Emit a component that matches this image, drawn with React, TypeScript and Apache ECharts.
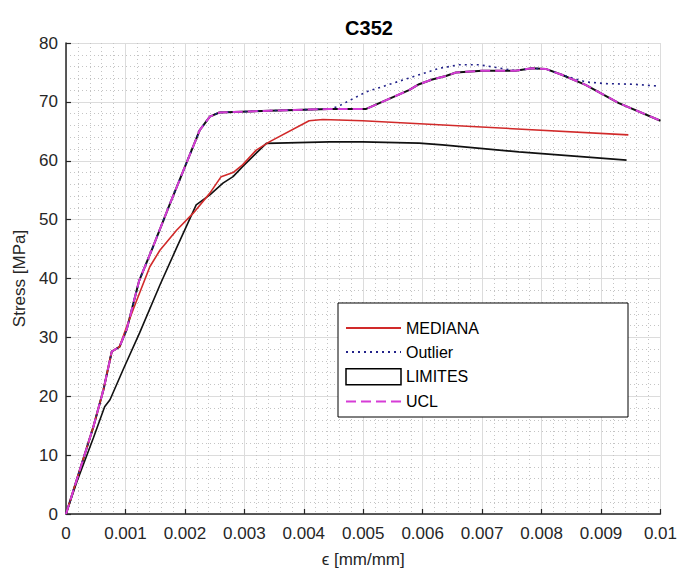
import React, { useEffect, useRef } from "react";
import * as echarts from "echarts";

const xTicks = [0, 0.001, 0.002, 0.003, 0.004, 0.005, 0.006, 0.007, 0.008, 0.009, 0.01];

const upperStrain = [0, 0.00046, 0.00063, 0.00077, 0.0009, 0.00102, 0.00123, 0.00146, 0.001745, 0.00225, 0.00242, 0.00258, 0.00342, 0.00443, 0.00505, 0.00577, 0.00594, 0.00616, 0.00639, 0.00656, 0.007, 0.00756, 0.00784, 0.00807, 0.00834, 0.00874, 0.0093, 0.01];
const upperStress = [0, 14.8, 21.1, 27.6, 28.4, 31.3, 39.6, 45.3, 52.6, 65.2, 67.5, 68.2, 68.5, 68.8, 68.8, 72.0, 73.0, 73.8, 74.4, 75.0, 75.3, 75.3, 75.7, 75.6, 74.6, 72.9, 69.8, 66.8];

const outlierStrain = [0, 0.00046, 0.00063, 0.00077, 0.0009, 0.00102, 0.00123, 0.00146, 0.001745, 0.00225, 0.00242, 0.00258, 0.00342, 0.00443, 0.00457, 0.00505, 0.00594, 0.00628, 0.00661, 0.00695, 0.0072, 0.00756, 0.00784, 0.00807, 0.00834, 0.00874, 0.00907, 0.00952, 0.00994];
const outlierStress = [0, 14.8, 21.1, 27.6, 28.4, 31.3, 39.6, 45.3, 52.6, 65.2, 67.5, 68.2, 68.5, 68.8, 69.2, 71.7, 74.6, 75.7, 76.3, 76.3, 75.9, 75.3, 75.7, 75.6, 74.6, 73.4, 73.1, 73.0, 72.7];

const medianStrain = [0, 0.00046, 0.00063, 0.00077, 0.0009, 0.00102, 0.00119, 0.00141, 0.00158, 0.00186, 0.00214, 0.00242, 0.00261, 0.00281, 0.00297, 0.0032, 0.00342, 0.00409, 0.00432, 0.00499, 0.00611, 0.00946];
const medianStress = [0, 14.8, 21.1, 27.6, 28.4, 31.8, 36.3, 42.0, 44.8, 48.2, 51.1, 54.5, 57.3, 58.0, 59.3, 61.8, 63.2, 66.8, 67.0, 66.8, 66.2, 64.4];

const lowerStrain = [0, 0.00018, 0.00046, 0.00065, 0.00074, 0.00096, 0.00124, 0.00158, 0.00186, 0.00219, 0.00242, 0.00264, 0.00281, 0.00297, 0.0032, 0.00337, 0.00443, 0.00499, 0.00594, 0.00633, 0.00762, 0.00943];
const lowerStress = [0, 5.4, 12.9, 18.2, 19.4, 24.5, 30.8, 38.9, 45.2, 52.5, 54.2, 56.2, 57.3, 59.0, 61.3, 62.95, 63.2, 63.2, 63.0, 62.7, 61.5, 60.1];

const pairs = (xs: number[], ys: number[]) => xs.map((x, i) => [x, ys[i]]);

const FONT = "'Liberation Sans', Arial, Helvetica, sans-serif";
const TXT = "#262626";

export default function App() {
  const ref = useRef<HTMLDivElement>(null);
  useEffect(() => {
    if (!ref.current) return;
    const chart = echarts.init(ref.current, undefined, { renderer: "svg" });
    chart.setOption({
      animation: false,
      backgroundColor: "#ffffff",
      textStyle: { fontFamily: FONT },
      title: {
        text: "C352",
        left: 364,
        textAlign: "center",
        top: 13,
        textStyle: { fontSize: 20, fontWeight: "bold", color: "#000", fontFamily: FONT },
      },
      grid: { left: 66, right: 18, top: 43, bottom: 59, show: false },
      xAxis: {
        type: "value",
        min: xTicks[0],
        max: xTicks[xTicks.length - 1],
        interval: 0.001,
        name: "ϵ [mm/mm]",
        nameLocation: "middle",
        nameGap: 37,
        nameTextStyle: { fontSize: 17, color: TXT, fontFamily: FONT },
        axisLine: { show: true, onZero: false, lineStyle: { color: "#262626", width: 1.5 } },
        axisTick: { show: true, inside: true, length: 5, lineStyle: { color: "#262626", width: 1.2 } },
        axisLabel: {
          fontSize: 17,
          color: TXT,
          margin: 11,
          fontFamily: FONT,
          formatter: (v: number) => (v === 0 ? "0" : String(parseFloat(v.toFixed(3)))),
        },
        splitLine: { show: true, lineStyle: { color: "#dcdcdc", width: 1 } },
        minorTick: { show: false, splitNumber: 5 },
        minorSplitLine: { show: true, lineStyle: { color: "#c4c4c4", width: 1, type: [1, 3] } },
      },
      yAxis: {
        type: "value",
        min: 0,
        max: 80,
        interval: 10,
        name: "Stress [MPa]",
        nameLocation: "middle",
        nameGap: 38,
        nameTextStyle: { fontSize: 17, color: TXT, fontFamily: FONT },
        axisLine: { show: true, onZero: false, lineStyle: { color: "#262626", width: 1.5 } },
        axisTick: { show: true, inside: true, length: 5, lineStyle: { color: "#262626", width: 1.2 } },
        axisLabel: { fontSize: 17, color: TXT, margin: 8, fontFamily: FONT },
        splitLine: { show: true, lineStyle: { color: "#dcdcdc", width: 1 } },
        minorTick: { show: false, splitNumber: 5 },
        minorSplitLine: { show: true, lineStyle: { color: "#c4c4c4", width: 1, type: [1, 3] } },
      },
      graphic: [
        {
          type: "rect",
          z: 3,
          shape: { x: 338, y: 303, width: 290, height: 114 },
          style: { fill: "#ffffff", stroke: "#000000", lineWidth: 1 },
        },
      ],
      legend: {
        orient: "vertical",
        left: 338,
        top: 303,
        z: 5,
        padding: [17, 10, 9, 7],
        itemGap: 8,
        itemWidth: 55,
        itemHeight: 16,
        itemStyle: { opacity: 0 },
        textStyle: { fontSize: 16, color: "#000", fontFamily: FONT },
        data: [
          "MEDIANA",
          "Outlier",
          {
            name: "LIMITES",
            icon: "rect",
            itemStyle: { opacity: 1, color: "rgba(255,255,255,0)", borderColor: "#000", borderWidth: 1.5 },
          },
          "UCL",
        ],
      },
      series: [
        {
          name: "LIMITES",
          type: "line",
          data: pairs(lowerStrain, lowerStress),
          symbol: "none",
          lineStyle: { color: "#111", width: 1.6 },
          itemStyle: { color: "#111" },
          z: 2,
        },
        {
          name: "LIMITES",
          type: "line",
          data: pairs(upperStrain, upperStress),
          symbol: "none",
          lineStyle: { color: "#111", width: 2 },
          itemStyle: { color: "#111" },
          z: 2,
        },
        {
          name: "MEDIANA",
          type: "line",
          data: pairs(medianStrain, medianStress),
          symbol: "none",
          lineStyle: { color: "#d12a2a", width: 1.6 },
          itemStyle: { color: "#d12a2a" },
          z: 2,
        },
        {
          name: "Outlier",
          type: "line",
          data: pairs(outlierStrain, outlierStress),
          symbol: "none",
          lineStyle: { color: "#22228a", width: 1.6, type: [2, 4] },
          itemStyle: { color: "#22228a" },
          z: 2,
        },
        {
          name: "UCL",
          type: "line",
          data: pairs(upperStrain, upperStress),
          symbol: "none",
          lineStyle: { color: "#d63cd6", width: 2, type: [10, 5] },
          itemStyle: { color: "#d63cd6" },
          z: 2,
        },
      ],
    });
    return () => chart.dispose();
  }, []);
  return (
    <div
      ref={ref}
      style={{ position: "fixed", left: 0, top: 0, width: 680, height: 573 }}
    />
  );
}
